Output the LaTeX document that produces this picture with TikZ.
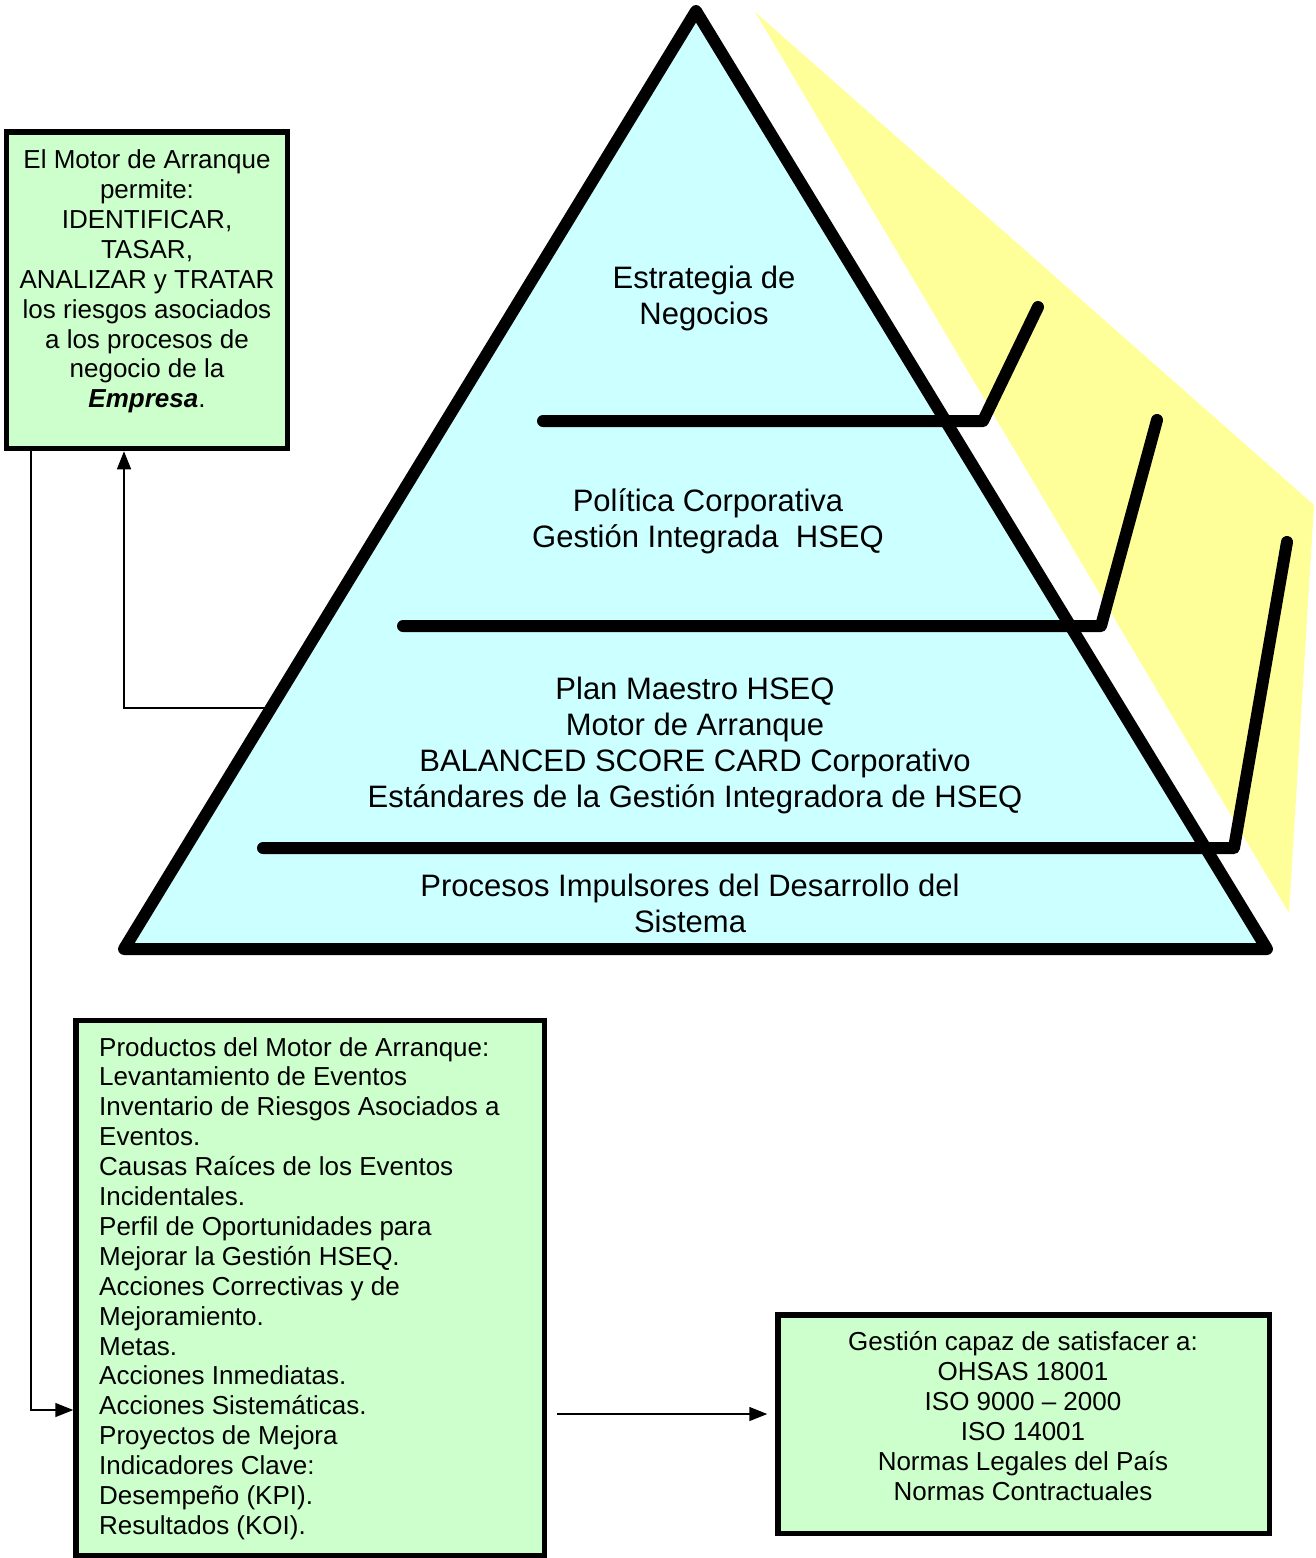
\documentclass[tikz,border=0pt]{standalone}
\usepackage{fontspec}
\setmainfont{Liberation Sans}
\usetikzlibrary{arrows.meta}
\definecolor{pyrcyan}{HTML}{CCFFFF}
\definecolor{boxgreen}{HTML}{CCFFCC}
\definecolor{shadeyellow}{HTML}{FFFF99}
\begin{document}
\begin{tikzpicture}[x=1pt,y=-1pt,
  pyrline/.style={line width=12pt, line cap=round, line join=round},
  greenbox/.style={draw, fill=boxgreen, line width=5.5pt, inner sep=0pt},
  conn/.style={line width=1.5pt, -{Triangle[length=18pt,width=14pt]}},
  bigtxt/.style={font=\fontsize{31}{36}\selectfont, align=center, inner sep=0pt},
  smalltxt/.style={font=\fontsize{26}{29.9}\selectfont, inner sep=0pt}]
\useasboundingbox (0,0) rectangle (1316,1558);

% yellow shade
\fill[shadeyellow] (755,12) -- (1314,505) -- (1289,913) -- cycle;

% pyramid
\coordinate (apex) at (696,11);
\coordinate (bl) at (124,949);
\coordinate (br) at (1267,949);
\draw[pyrline, fill=pyrcyan] (apex) -- (bl) -- (br) -- cycle;

% level lines
\draw[pyrline] (543,421) -- (983,421) -- (1038,307);
\draw[pyrline] (403,626) -- (1101,626) -- (1157,420);
\draw[pyrline] (263,848) -- (1234,848) -- (1287,542);

% pyramid texts
\node[bigtxt] (estr) at (704,298) {Estrategia de\\Negocios};
\node[bigtxt] (polit) at (708,521) {Política Corporativa\\Gestión Integrada~ HSEQ};
\node[bigtxt] (plan) at (695,745) {Plan Maestro HSEQ\\Motor de Arranque\\BALANCED SCORE CARD Corporativo\\Estándares de la Gestión Integradora de HSEQ};
\node[bigtxt] (proc) at (690,903) {Procesos Impulsores del Desarrollo del\\Sistema};

% boxes
\node[greenbox, minimum width=281pt, minimum height=316.5pt] (motorbox) at (147,290.25) {};
\node[smalltxt, align=center] (motortxt) at (147,281.5) {El Motor de Arranque\\permite:\\IDENTIFICAR,\\TASAR,\\ANALIZAR y TRATAR\\los riesgos asociados\\a los procesos de\\negocio de la\\\textbf{\textit{Empresa}}.};

\node[greenbox, minimum width=468.5pt, minimum height=535pt] (prodbox) at (310.25,1288) {};
\node[smalltxt, align=left, anchor=west] (prodtxt) at (99,1288.5) {Productos del Motor de Arranque:\\Levantamiento de Eventos\\Inventario de Riesgos Asociados a\\Eventos.\\Causas Raíces de los Eventos\\Incidentales.\\Perfil de Oportunidades para\\Mejorar la Gestión HSEQ.\\Acciones Correctivas y de\\Mejoramiento.\\Metas.\\Acciones Inmediatas.\\Acciones Sistemáticas.\\Proyectos de Mejora\\Indicadores Clave:\\Desempeño (KPI).\\Resultados (KOI).};

\node[greenbox, minimum width=491.5pt, minimum height=218.5pt] (normbox) at (1023.75,1424.25) {};
\node[smalltxt, align=center] (normtxt) at (1023,1416) {Gestión capaz de satisfacer a:\\OHSAS 18001\\ISO 9000 – 2000\\ISO 14001\\Normas Legales del País\\Normas Contractuales};

% connectors
\coordinate (p1) at (267,708);
\draw[conn] (p1) -| ([xshift=-23pt]motorbox.south);
\draw[conn] ([xshift=-116pt]motorbox.south) |- (prodbox.west |- 0,1410);
\coordinate (c3s) at (prodbox.east |- 0,1414);
\coordinate (c3e) at (normbox.west |- 0,1414);
\draw[conn] ([xshift=10pt]c3s) -- ([xshift=-8pt]c3e);
\end{tikzpicture}
\end{document}
